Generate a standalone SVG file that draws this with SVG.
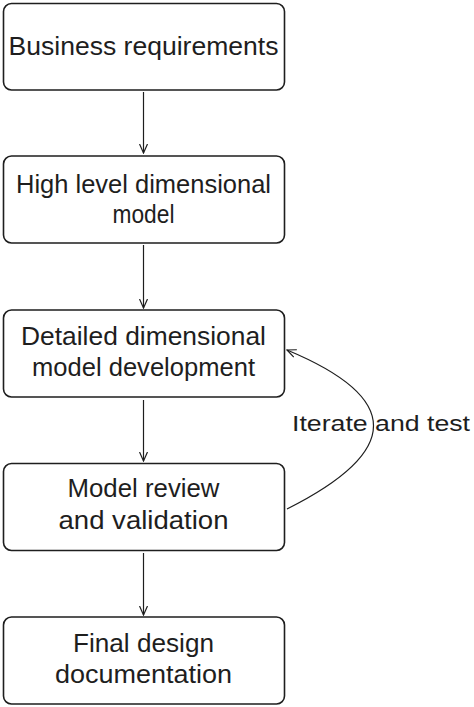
<svg xmlns="http://www.w3.org/2000/svg" width="474" height="707" viewBox="0 0 474 707">
<defs>
<style>
.box{fill:#ffffff;stroke:#1e1e1e;stroke-width:1.6}
.t{font-family:"Liberation Sans",Arial,sans-serif;font-size:26px;fill:#1e1e1e;text-anchor:middle}
.lbl{font-family:"Liberation Sans",Arial,sans-serif;font-size:22px;fill:#1e1e1e}
.c{fill:none;stroke:#1e1e1e;stroke-width:1.2}
</style>
<marker id="ah" viewBox="0 0 10 10" refX="9" refY="5" markerWidth="10" markerHeight="10" markerUnits="userSpaceOnUse" orient="auto">
<path d="M0,1 L9,5 L0,9" fill="none" stroke="#1e1e1e" stroke-width="1.2"/>
</marker>
</defs>
<rect width="474" height="707" fill="#ffffff"/>
<g id="connectors">
<line class="c" x1="143.5" y1="92" x2="143.5" y2="153" marker-end="url(#ah)"/>
<line class="c" x1="143.5" y1="245" x2="143.5" y2="308" marker-end="url(#ah)"/>
<line class="c" x1="143.5" y1="400" x2="143.5" y2="461" marker-end="url(#ah)"/>
<line class="c" x1="143.5" y1="553" x2="143.5" y2="615" marker-end="url(#ah)"/>
<path class="c" d="M287 509 Q 460 422 287 350" marker-end="url(#ah)"/>
<text class="lbl" x="292" y="431" textLength="178" lengthAdjust="spacingAndGlyphs">Iterate and test</text>
</g>
<g id="n1">
<rect class="box" x="3.5" y="3.5" width="281" height="86.5" rx="8"/>
<text class="t" x="143.5" y="55" textLength="270" lengthAdjust="spacingAndGlyphs">Business requirements</text>
</g>
<g id="n2">
<rect class="box" x="3.5" y="156" width="281" height="87" rx="8"/>
<text class="t" x="143.5" y="193" textLength="255" lengthAdjust="spacingAndGlyphs">High level dimensional</text>
<text class="t" x="143.5" y="223" textLength="62" lengthAdjust="spacingAndGlyphs">model</text>
</g>
<g id="n3">
<rect class="box" x="3.5" y="310" width="281" height="87" rx="8"/>
<text class="t" x="143.5" y="345" textLength="245" lengthAdjust="spacingAndGlyphs">Detailed dimensional</text>
<text class="t" x="143.5" y="376" textLength="223" lengthAdjust="spacingAndGlyphs">model development</text>
</g>
<g id="n4">
<rect class="box" x="3.5" y="463.5" width="281" height="87" rx="8"/>
<text class="t" x="143.5" y="497" textLength="152" lengthAdjust="spacingAndGlyphs">Model review</text>
<text class="t" x="143.5" y="529" textLength="170" lengthAdjust="spacingAndGlyphs">and validation</text>
</g>
<g id="n5">
<rect class="box" x="3.5" y="617" width="281" height="87" rx="8"/>
<text class="t" x="143.5" y="652" textLength="141" lengthAdjust="spacingAndGlyphs">Final design</text>
<text class="t" x="143.5" y="683" textLength="177" lengthAdjust="spacingAndGlyphs">documentation</text>
</g>
</svg>
